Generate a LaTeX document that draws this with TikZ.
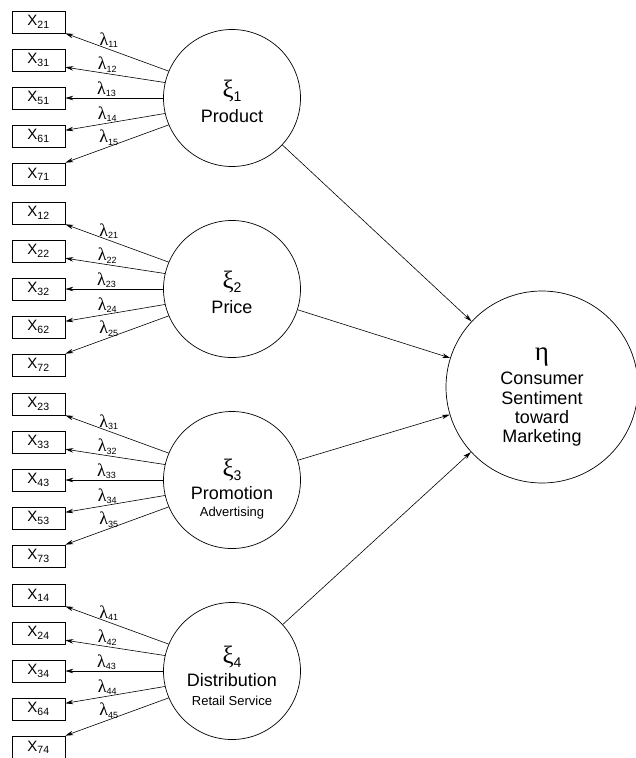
\documentclass[tikz,border=0pt]{standalone}
\usepackage{fontspec}
\setmainfont{Liberation Sans}
\newfontfamily\greek{Liberation Serif}
\usetikzlibrary{arrows.meta}

% upright Greek with a small subscript
\newcommand{\lam}[1]{{\greek\fontsize{18}{18}\selectfont λ}\raisebox{-2.5pt}{\fontsize{9}{9}\selectfont #1}}
\newcommand{\fac}[1]{{\greek\fontsize{25}{25}\selectfont ξ}\raisebox{-4pt}{\fontsize{14}{14}\selectfont #1}}

\tikzset{
    manifest/.style={draw, line width=0.7pt, minimum width=53pt, minimum height=22pt,
        inner sep=0pt, font=\fontsize{15}{16}\selectfont},
    latent/.style={draw, circle, line width=0.7pt, minimum size=137pt, inner sep=0pt},
    factext/.style={align=center, inner sep=0pt, font=\fontsize{18}{21}\selectfont},
    load/.style={->, line width=0.6pt},
    lam/.style={above, inner sep=1pt},
}

\begin{document}
\begin{tikzpicture}[x=1pt, y=-1pt, >={Stealth[length=8pt, width=4.5pt]}]
    \useasboundingbox (0,0) rectangle (636,758);
    % Exogenous factors
    \node [latent] (xi1) at (232, 98) {};
    \node [latent] (xi2) at (232, 289) {};
    \node [latent] (xi3) at (232, 480) {};
    \node [latent] (xi4) at (232, 671) {};
    \node [factext] (xi1-text) at ([yshift=-3pt]xi1) {\fac{1}\\[4pt]Product};
    \node [factext] (xi2-text) at ([yshift=-3pt]xi2) {\fac{2}\\[4pt]Price};
    \node [factext] (xi3-text) at ([yshift=-9pt]xi3) {\fac{3}\\[2pt]Promotion\\[-4pt]{\fontsize{13}{15}\selectfont Advertising}};
    \node [factext] (xi4-text) at ([yshift=-5pt]xi4) {\fac{4}\\[2pt]Distribution\\[-2pt]{\fontsize{13}{15}\selectfont Retail Service}};
    % Endogenous factor
    \node [latent, minimum size=192pt] (eta) at (542, 387) {};
    \node [factext, font=\fontsize{18}{19.5}\selectfont] (eta-text) at ([yshift=-10pt]eta)
        {{\greek\fontsize{27}{27}\selectfont η}\\[5pt]Consumer\\Sentiment\\toward\\Marketing};
    % Indicators and loadings, five per factor
    \foreach \g/\y/\ids in {1/22/{21,31,51,61,71}, 2/213/{12,22,32,62,72},
                            3/404/{23,33,43,53,73}, 4/595/{14,24,34,64,74}} {
        \foreach \id [count=\k] in \ids
            \node [manifest] (x\g\k) at (38.5, \y+38*\k-38) {X\textsubscript{\id}};
        \foreach \k/\ang/\tip in {1/157/south east, 2/167/-15, 3/180/east, 4/193/12, 5/203/north east}
            \draw [load] (xi\g.\ang) -- node [lam, pos=0.58] {\lam{\g\k}} (x\g\k.\tip);
    }
    % Structural paths
    \draw [load] (xi1) -- (eta);
    \draw [load] (xi2) -- (eta);
    \draw [load] (xi3) -- (eta);
    \draw [load] (xi4) -- (eta);
\end{tikzpicture}
\end{document}
